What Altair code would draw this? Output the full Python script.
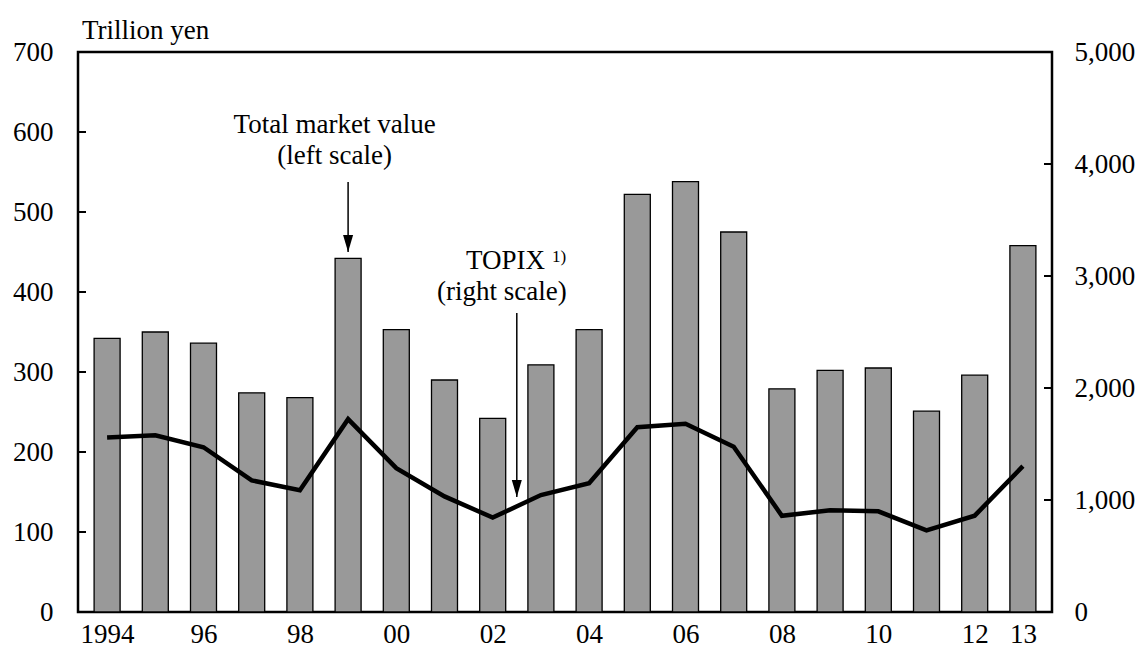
import altair as alt
import pandas as pd

years = list(range(1994, 2014))
market_value = [342, 350, 336, 274, 268, 442, 353, 290, 242, 309,
                353, 522, 538, 475, 279, 302, 305, 251, 296, 458]
topix = [1559, 1578, 1471, 1175, 1087, 1722, 1284, 1032, 843, 1044,
         1150, 1650, 1681, 1476, 859, 908, 899, 729, 860, 1302]

x_label_values = [1994, 1996, 1998, 2000, 2002, 2004, 2006, 2008, 2010, 2012, 2013]
left_ticks = [0, 100, 200, 300, 400, 500, 600, 700]
right_ticks = [0, 1000, 2000, 3000, 4000, 5000]
left_inner_ticks = [100, 200, 300, 400, 500, 600]
right_inner_ticks = [1000, 2000, 3000, 4000]

FONT = "Liberation Serif"
FS = 27
W, H = 974, 560

df = pd.DataFrame({"year": years, "value": market_value, "topix": topix})

xscale = alt.Scale(domain=[1993.5, 2013.5], nice=False, zero=False)
xaxis = alt.Axis(values=x_label_values, title=None, ticks=False, domain=False, grid=False,
                 labelExpr="datum.value == 1994 ? '1994' : substring(toString(datum.value), 2, 4)",
                 labelBaseline="alphabetic", labelPadding=30, labelFlush=False, labelOverlap=False,
                 labelFont=FONT, labelFontSize=FS, labelColor="black")
lscale = alt.Scale(domain=[0, 700], nice=False, zero=True)
laxis = alt.Axis(values=left_ticks, title=None, ticks=False, domain=False, grid=False,
                 labelPadding=25, labelFlush=False,
                 labelExpr="format(datum.value, 'd')",
                 labelFont=FONT, labelFontSize=FS, labelColor="black")
rscale = alt.Scale(domain=[0, 5000], nice=False, zero=True)
raxis = alt.Axis(values=right_ticks, title=None, ticks=False, domain=False, grid=False,
                 labelPadding=22, labelFlush=False, orient="right",
                 labelExpr="format(datum.value, ',.0f')",
                 labelFont=FONT, labelFontSize=FS, labelColor="black")


def X(field):
    return alt.X(field, type="quantitative", scale=xscale, axis=xaxis)


def YL(field):
    return alt.Y(field, type="quantitative", scale=lscale, axis=laxis)


def YR(field):
    return alt.Y(field, type="quantitative", scale=rscale, axis=raxis)


bars = alt.Chart(df).mark_bar(size=26, color="#999999", stroke="black", strokeWidth=1.3).encode(
    x=X("year"), y=YL("value")
)

lt = alt.Chart(pd.DataFrame({"t": left_inner_ticks})).mark_rule(color="black", strokeWidth=2).encode(
    y=YL("t"), x=alt.value(0), x2=alt.value(8)
)

# annotations (in data coordinates of the left scale)
arrows = pd.DataFrame({
    "ax": [1999.0, 2002.5],
    "ytop": [537.5, 373.75],
    "ytip": [450.0, 143.75],
})
shafts = alt.Chart(arrows).mark_rule(color="black", strokeWidth=1.5).encode(
    x=X("ax"), y=YL("ytop"), y2="ytip"
)
heads = alt.Chart(arrows).mark_point(
    shape="M-0.59,-2L0.59,-2L0,0Z", size=289, filled=True, color="black", opacity=1, strokeWidth=0
).encode(x=X("ax"), y=YL("ytip"))

txt_center = pd.DataFrame({
    "tx": [1998.72, 2002.19],
    "ty": [598.75, 390.0],
    "label": ["Total market value\n(left scale)", "(right scale)"],
})
t1 = alt.Chart(txt_center).mark_text(
    font=FONT, fontSize=FS, color="black", align="center", baseline="alphabetic",
    lineBreak="\n", lineHeight=31
).encode(x=X("tx"), y=YL("ty"), text="label:N")

t2 = alt.Chart(pd.DataFrame({"tx": [2001.447], "ty": [428.75], "label": ["TOPIX"]})).mark_text(
    font=FONT, fontSize=FS, color="black", align="left", baseline="alphabetic"
).encode(x=X("tx"), y=YL("ty"), text="label:N")

t3 = alt.Chart(pd.DataFrame({"tx": [2003.23], "ty": [438.0], "label": ["1)"]})).mark_text(
    font=FONT, fontSize=17, color="black", align="left", baseline="alphabetic"
).encode(x=X("tx"), y=YL("ty"), text="label:N")

unit = alt.Chart(pd.DataFrame({"a": [0]})).mark_text(
    font=FONT, fontSize=FS, color="black", align="left", baseline="alphabetic"
).encode(x=alt.value(4), y=alt.value(-13), text=alt.value("Trillion yen"))

left = alt.layer(bars, lt, shafts, heads, t1, t2, t3, unit)

line = alt.Chart(df).mark_line(color="black", strokeWidth=4.5).encode(
    x=X("year"), y=YR("topix")
)
rt = alt.Chart(pd.DataFrame({"t": right_inner_ticks})).mark_rule(color="black", strokeWidth=2).encode(
    y=YR("t"), x=alt.value(W - 8), x2=alt.value(W)
)
right = alt.layer(line, rt)

chart = alt.layer(left, right).resolve_scale(y="independent").properties(
    width=W, height=H,
    autosize=alt.AutoSizeParams(type="none"),
    padding={"left": 70, "top": 44, "right": 83, "bottom": 37},
    background="white",
).configure_view(stroke="black", strokeWidth=2.5)

chart.save("out.html", embed_options={"renderer": "svg", "actions": False})
